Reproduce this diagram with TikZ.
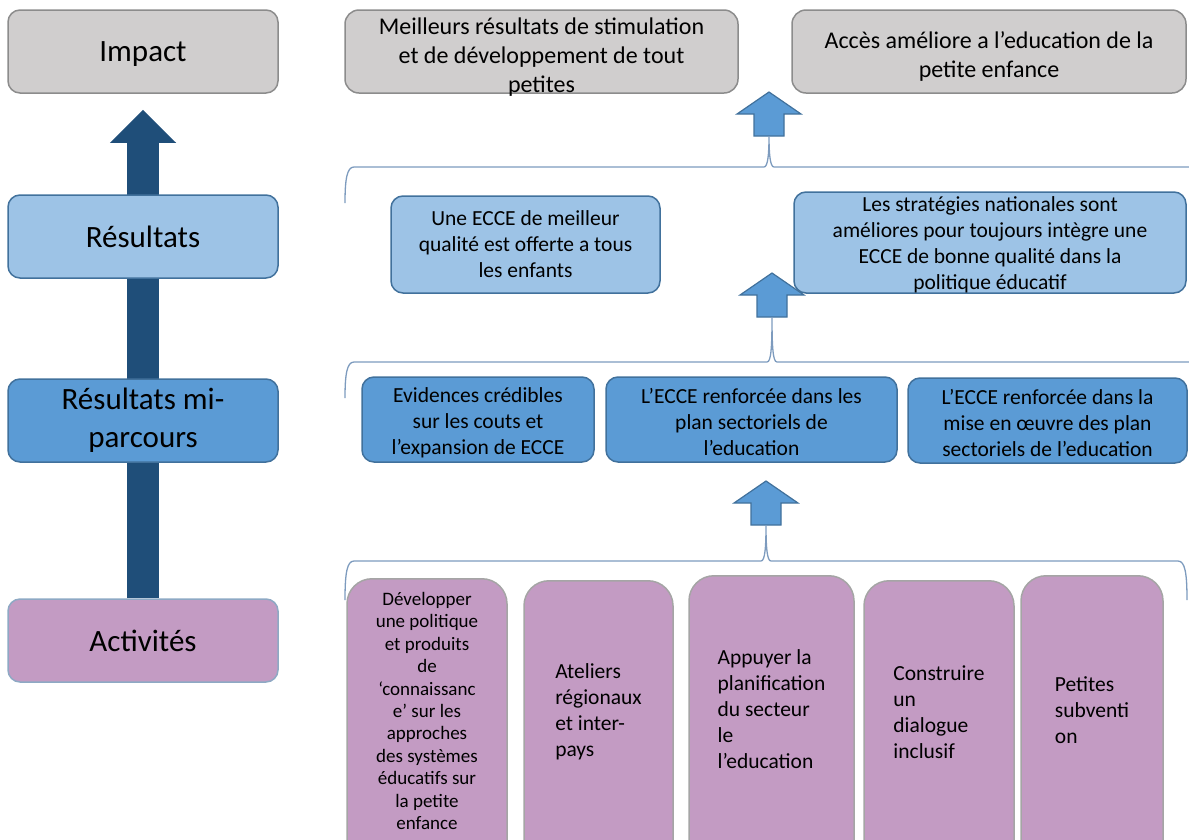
\documentclass[tikz,border=0pt]{standalone}
\usepackage{fontspec}
\setmainfont{Carlito}
\usetikzlibrary{arrows.meta, backgrounds}
\definecolor{boxgray}{HTML}{D0CECE}
\definecolor{grayline}{HTML}{8C8C8C}
\definecolor{boxlight}{HTML}{9DC3E6}
\definecolor{boxblue}{HTML}{5B9BD5}
\definecolor{blueline}{HTML}{41719C}
\definecolor{boxpurple}{HTML}{C39BC3}
\definecolor{purpleline}{HTML}{A5A5A5}
\definecolor{actline}{HTML}{8EA9C4}
\definecolor{darkarrow}{HTML}{1F4E79}
\definecolor{braceline}{HTML}{7D9BBE}
% first-line strut, pushes the text of a box down a little
\newcommand{\toppad}[1]{\rule{0pt}{#1}}
% block arrow: tip x, tip y
\newcommand{\blockup}[2]{%
  \filldraw[blockarrow] (#1,#2) -- ++(32,22) -- ++(-17,0) -- ++(0,22)
    -- ++(-30,0) -- ++(0,-22) -- ++(-17,0) -- cycle;}
% brace: peak x, peak y, line y, left x, right x, end y
\newcommand{\levelbrace}[6]{%
  \draw[bracket] (#4,#6) .. controls (#4,#3+12) and (#4+2,#3) .. (#4+9,#3)
    -- (#1-5,#3) .. controls (#1-1,#3) and (#1,#3-14) .. (#1,#2)
    .. controls (#1,#3-14) and (#1+1,#3) .. (#1+5,#3)
    -- (#5-9,#3) .. controls (#5-2,#3) and (#5,#3+12) .. (#5,#6);}

\begin{document}
\begin{tikzpicture}[x=1pt, y=-1pt,
    box/.style={draw, line width=1.5pt, rounded corners=12pt, align=center, inner sep=2pt},
    graybox/.style={box, fill=boxgray, draw=grayline},
    lightbox/.style={box, fill=boxlight, draw=blueline},
    bluebox/.style={box, fill=boxblue, draw=blueline},
    levelbox/.style={minimum width=270pt, minimum height=83pt,
      font=\fontsize{31}{38}\selectfont},
    headbox/.style={graybox, rounded corners=14pt, minimum height=83pt,
      font=\fontsize{24}{29}\selectfont},
    outbox/.style={font=\fontsize{21.5}{26}\selectfont},
    actbox/.style={box, fill=boxpurple, draw=purpleline, rounded corners=25pt,
      minimum height=300pt, anchor=north},
    acttext/.style={align=left, inner sep=0pt, font=\fontsize{21.5}{26}\selectfont},
    blockarrow/.style={fill=boxblue, draw=blueline, line width=1.2pt},
    bracket/.style={draw=braceline, line width=1.3pt},
  ]
    \clip (0,0) rectangle (1189,839);

    % levels
    \node[graybox, levelbox, text depth=0pt] (imp) at (143,51.5) {Impact};
    \node[lightbox, levelbox] (res) at (143,236.5) {Résultats};
    \node[bluebox, levelbox] (mid) at (143,420.5) {Résultats mi-\\parcours};
    \node[box, fill=boxpurple, draw=actline, levelbox] (act) at (143,640.5) {Activités};
    \begin{scope}[on background layer]
      \draw[darkarrow, line width=32pt,
        -{Triangle[length=33pt, width=64pt]}] (act.north) -- ([yshift=-16pt]imp.south);
    \end{scope}

    % impact
    \node[headbox, minimum width=393pt, inner ysep=-10pt] (t1) at (541.5,51.5)
      {\toppad{27pt}Meilleurs résultats de stimulation\\et de développement de tout\\petites};
    \node[headbox, minimum width=394pt] (t2) at (989,51.5)
      {\toppad{27pt}Accès améliore a l’education de la\\petite enfance};

    % resultats
    \node[lightbox, outbox, minimum width=269pt, minimum height=97pt] (r1) at (525.5,244.5)
      {Une ECCE de meilleur\\qualité est offerte a tous\\les enfants};
    \node[lightbox, outbox, minimum width=392pt, minimum height=101pt, inner ysep=-6pt]
      (r2) at (990,242.5)
      {\toppad{20pt}Les stratégies nationales sont\\améliores pour toujours intègre une\\ECCE de bonne qualité dans la\\politique éducatif};

    % resultats mi-parcours
    \node[bluebox, outbox, minimum width=232pt, minimum height=85pt] (m1) at (478,419.5)
      {\toppad{21pt}Evidences crédibles\\sur les couts et\\l’expansion de ECCE};
    \node[bluebox, outbox, minimum width=291pt, minimum height=85pt] (m2) at (751.5,419.5)
      {\toppad{21pt}L’ECCE renforcée dans les\\plan sectoriels de\\l’education};
    \node[bluebox, outbox, minimum width=279pt, minimum height=85pt] (m3) at (1047.5,420.5)
      {\toppad{21pt}L’ECCE renforcée dans la\\mise en œuvre des plan\\sectoriels de l’education};

    % activites (boxes run off the bottom edge)
    \node[actbox, minimum width=160pt] (a1) at (427,578) {};
    \node[actbox, minimum width=149pt] (a2) at (598.5,580) {};
    \node[actbox, minimum width=165pt] (a3) at (771.5,575) {};
    \node[actbox, minimum width=150pt] (a4) at (939,580) {};
    \node[actbox, minimum width=142pt] (a5) at (1092,575) {};
    \node[acttext, align=center, font=\fontsize{19}{22.4}\selectfont] (a1t)
      at ([yshift=-133pt]a1.north)
      {Développer\\une politique\\et produits\\de\\‘connaissanc\\e’ sur les\\approches\\des systèmes\\éducatifs sur\\la petite\\enfance};
    \node[acttext] (a2t) at ([yshift=-132pt]a2.north) {Ateliers\\régionaux\\et inter-\\pays};
    \node[acttext] (a3t) at ([yshift=-134.5pt]a3.north)
      {Appuyer la\\planification\\du secteur\\le\\l’education};
    \node[acttext] (a4t) at ([yshift=-132pt]a4.north) {Construire\\un\\dialogue\\inclusif};
    \node[acttext] (a5t) at ([yshift=-135pt]a5.north) {Petites\\subventi\\on};

    % arrows and braces
    \blockup{769}{92}
    \levelbrace{769}{136}{167}{345}{1200}{203}
    \blockup{772}{273}
    \levelbrace{772}{317}{362}{345}{1200}{398}
    \blockup{766}{481}
    \levelbrace{766}{525}{561}{345}{1187}{600}
  \end{tikzpicture}
\end{document}
